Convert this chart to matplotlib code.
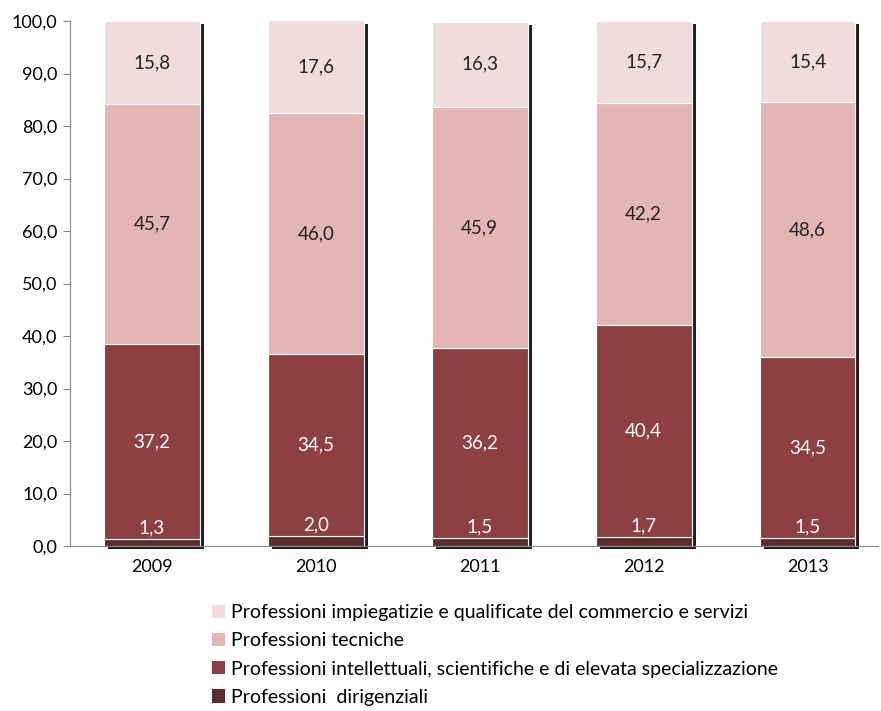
import matplotlib
matplotlib.use("Agg")
import matplotlib.pyplot as plt
import matplotlib.transforms as mtransforms
import numpy as np

years = ["2009", "2010", "2011", "2012", "2013"]
dirigenziali = [1.3, 2.0, 1.5, 1.7, 1.5]
intellettuali = [37.2, 34.5, 36.2, 40.4, 34.5]
tecniche = [45.7, 46.0, 45.9, 42.2, 48.6]
impiegatizie = [15.8, 17.6, 16.3, 15.7, 15.4]

series = [
    ("Professioni  dirigenziali", dirigenziali, "#5E2B2C", "white"),
    ("Professioni intellettuali, scientifiche e di elevata specializzazione", intellettuali, "#8E3F42", "white"),
    ("Professioni tecniche", tecniche, "#E4B5B5", "#222222"),
    ("Professioni impiegatizie e qualificate del commercio e servizi", impiegatizie, "#F0DCDC", "#222222"),
]

plt.rcParams['font.family'] = ['Lato', 'DejaVu Sans']

fig = plt.figure(figsize=(8.81, 7.11), dpi=100)
ax = fig.add_axes([70/881, 1-546/711, (878-70)/881, (546-21)/711])

x = np.arange(len(years))
width = 0.585

totals = np.minimum(np.sum([s[1] for s in series], axis=0), 100)
shadow_tr = mtransforms.offset_copy(ax.transData, fig=fig, x=4, y=-3, units='dots')
ax.bar(x, totals, width=width, color="#231F20", transform=shadow_tr, zorder=1, clip_on=False)

bottom = np.zeros(len(years))
handles = []
for name, vals, col, tcol in series:
    vals = np.array(vals)
    b = ax.bar(x, vals, width=width, bottom=bottom, color=col, edgecolor="white",
               linewidth=0.8, zorder=2, label=name)
    handles.append(b)
    for xi, v, bt in zip(x, vals, bottom):
        if v < 5:
            ypos = bt + v + 2.1
        else:
            ypos = bt + v / 2
        ax.text(xi, ypos, f"{v:.1f}".replace(".", ","), ha="center", va="center",
                color=tcol, fontsize=13.5, zorder=5)
    bottom = bottom + vals

ax.set_xlim(-0.5, 4.43)
ax.set_ylim(0, 100)
ax.set_yticks(np.arange(0, 101, 10))
ax.set_yticklabels([f"{v:.1f}".replace(".", ",") for v in np.arange(0, 101, 10)], fontsize=13)
ax.set_xticks(x)
ax.set_xticklabels(years, fontsize=13)
ax.tick_params(axis='x', length=0, pad=9)
ax.tick_params(axis='y', length=5, color="#888888", pad=4)
for s in ["top", "right"]:
    ax.spines[s].set_visible(False)
ax.spines["left"].set_color("#888888")
ax.spines["bottom"].set_color("#888888")
ax.spines["bottom"].set_zorder(3)

leg = fig.legend(handles[::-1], [s[0] for s in series][::-1], loc="upper left",
                 bbox_to_anchor=(212/881, 1-604/711), frameon=False, fontsize=14,
                 handlelength=0.68, handleheight=0.68, handletextpad=0.3, labelspacing=0.58,
                 borderpad=0, borderaxespad=0)
for h in leg.legend_handles:
    h.set_edgecolor("none")

fig.savefig("out.png", dpi=100)
